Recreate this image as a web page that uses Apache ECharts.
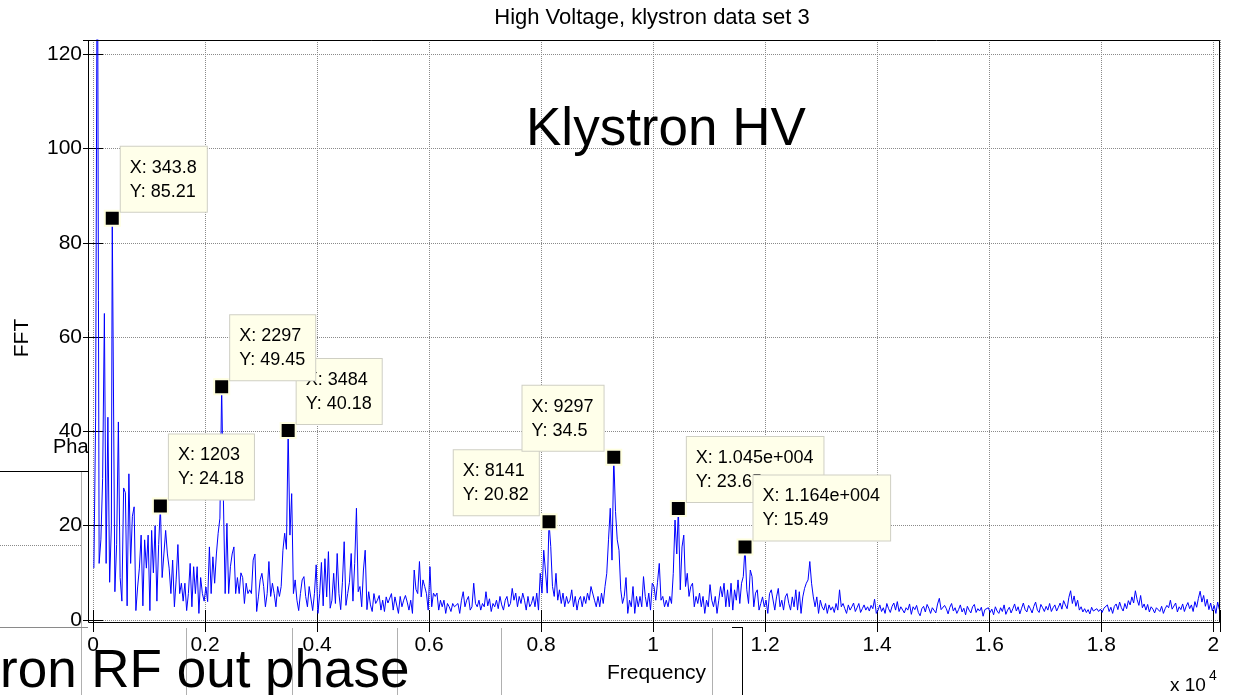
<!DOCTYPE html>
<html>
<head>
<meta charset="utf-8">
<script src="https://cdn.jsdelivr.net/npm/echarts@6/dist/echarts.min.js"></script>
<style>
  html, body { margin: 0; padding: 0; background: #fff; }
  #chart { width: 1235px; height: 695px; }
</style>
</head>
<body>
<div id="chart"></div>
<script>
// FFT bin width in Hz; the magnitude below is listed on every other (odd) bin
const BIN_HZ = 15.625;

// FFT magnitude, one row per kHz (32 odd bins per row)
const fftAmp = [
  11, 43, 160, 12, 17, 30, 65, 12, 43, 8, 20, 85.21, 6, 16, 42, 9, 4, 28, 27, 3, 31, 12, 22, 24, 2, 7, 11, 18, 3, 17, 11, 18,
  2, 19, 10, 20, 4, 16, 24.18, 9, 14, 19, 14, 11, 5.6, 12.7, 2.8, 8.5, 16, 5.6, 7.8, 4, 7.8, 2, 5.6, 12, 2.8, 11.3, 5.6, 11.3, 1.4, 9, 5.6, 4,
  7, 3.9, 15.5, 5.6, 13.4, 7.8, 14, 18.4, 21.6, 49.45, 25.4, 5.6, 20.5, 5.6, 11.3, 14, 15.5, 5.6, 9, 5.6, 10, 9, 3.5, 7.8, 5.6, 6.4, 5.6, 12.7, 14, 1.8, 4.9, 8.5,
  9.9, 7.1, 2.8, 5.6, 12.4, 5, 7.8, 5.6, 2.8, 7.1, 5, 7.1, 14.8, 18.4, 15, 40.18, 18, 26.8, 5.6, 8.5, 4.2, 2, 5.6, 8.5, 9.2, 5, 2.8, 7.1, 7.5, 2, 5.6, 11.7,
  1.4, 5.6, 12.2, 3, 13, 4.9, 14.5, 2.5, 4.2, 9.9, 3.5, 14.1, 5.6, 2.2, 8, 16.6, 3.1, 5.6, 8, 14.1, 4, 12, 23.7, 6, 7.1, 2.8, 10.6, 14.8, 2.2, 6, 3.2, 1.8,
  5.6, 3.5, 4.2, 5.2, 2.1, 4.2, 1.8, 4.9, 3.6, 3.5, 5.6, 2.1, 4.9, 4.5, 1.4, 5, 2.8, 4.2, 5.2, 3.8, 2.1, 4.2, 1.4, 10.6, 6.5, 5.6, 12.4, 4.9, 8.5, 7.1, 5.6, 2.1,
  11.3, 2.8, 5.7, 5, 5.7, 2.1, 4.2, 2.8, 4.2, 1.4, 3.5, 2.8, 1.8, 3.5, 2.8, 2.8, 3.5, 1.4, 4.2, 6, 2.8, 4.2, 5, 2.1, 2.8, 7.8, 3.5, 2.8, 4.2, 2.1, 3.5, 2.8,
  6, 3, 4.5, 1.8, 3.5, 2.8, 4.2, 2.4, 5, 3.2, 2.1, 4.2, 5, 2.8, 3.5, 6.7, 4.2, 5.7, 2.8, 5, 3.5, 5.7, 4.2, 2.1, 5, 2.8, 3.5, 5, 2.8, 5.7, 2.1, 9.9,
  5.7, 14.8, 15, 5.7, 20.82, 15.6, 7.1, 5, 9.9, 4.2, 6.4, 3.5, 5.7, 2.8, 5, 3.5, 4.2, 6.4, 2.8, 5, 2.1, 4.2, 5, 2.8, 5, 3.5, 5.7, 4.2, 7.1, 7.5, 4.2, 2.8,
  5, 2.8, 5.7, 3.5, 7.1, 9.9, 17, 23.7, 12.7, 34.5, 23, 17, 14.8, 6.4, 3.5, 5, 9, 1.4, 4.2, 2.8, 7.1, 1.4, 5, 2.8, 5, 2.8, 9.2, 5, 2.8, 5.7, 2.1, 7.8,
  7.1, 4.2, 8, 12, 4.2, 5, 2.8, 4.2, 2.8, 5, 3.5, 9.9, 21.2, 14, 23.65, 6.4, 15.5, 18, 7.1, 9.9, 5, 7.1, 7.8, 2.8, 5, 3.5, 5.7, 2.8, 5, 1.4, 4.2, 2.8,
  7.5, 4.2, 2.8, 5, 1.4, 4.2, 7.1, 4.9, 7.8, 2.8, 6.4, 2.8, 7.8, 2.1, 6.4, 4.2, 8.5, 3.5, 7.8, 9.2, 15.49, 6.4, 3.5, 10.6, 9.2, 2.8, 5.7, 6.4, 2.1, 3.5, 4.9, 2.8,
  4.2, 1.4, 5.6, 6.4, 6.7, 2.1, 4.9, 6.7, 2.8, 4.2, 2.1, 4.9, 5.6, 3.5, 2.1, 4.9, 2.8, 6.4, 2.1, 6, 1.4, 4.9, 6.7, 7.8, 8.5, 12.4, 7.8, 4.9, 2.8, 4.9, 1.4, 4.2,
  2.8, 2.1, 3.5, 1.4, 3.2, 2.1, 2.8, 1.6, 3.5, 2.1, 6.4, 2.8, 3.5, 2.4, 1.4, 3.2, 2.1, 2.8, 3.6, 1.8, 2.6, 3.5, 1.6, 2.4, 3.2, 2.1, 2.8, 1.9, 3.1, 2.4, 4.4, 1.4,
  2.1, 3.2, 1.8, 2.6, 1.4, 3.5, 2.4, 1.6, 2.9, 3.6, 2.1, 3.9, 1.8, 2.8, 3.2, 1.5, 2.6, 2.1, 3.4, 1.2, 2.8, 2.2, 3.1, 1.6, 0.9, 2.4, 2.9, 1.7, 3.3, 2.5, 1.4, 2.6,
  2.3, 1.5, 3.4, 4.6, 2.2, 1.8, 3.1, 2.4, 1.3, 2.7, 3.5, 1.9, 2.6, 1.4, 2.2, 3.2, 1.7, 2.5, 1.1, 2.9, 2.1, 1.5, 2.8, 3.3, 1.6, 2.4, 1.9, 2.7, 0.8, 2.2, 1.8, 2.6,
  1.6, 2.3, 1.1, 2.8, 1.9, 1.4, 2.6, 1.8, 3.2, 1.2, 2.1, 2.7, 1.5, 2.4, 3.4, 1.9, 2.8, 1.3, 2.5, 3.6, 2.2, 1.7, 3.1, 2.4, 1.5, 2.9, 3.8, 2.1, 1.6, 3.3, 2.6, 1.8,
  2.9, 2.1, 3.5, 1.8, 2.6, 3.2, 1.9, 2.7, 3.6, 2.3, 4.1, 3.2, 2.4, 4.8, 6.2, 3.5, 5.1, 2.9, 4.2, 2.1, 2.8, 1.7, 2.4, 1.6, 2.2, 1.3, 2.7, 1.9, 1.5, 2.4, 1.8, 2.3,
  1.6, 2.5, 2.1, 3.2, 1.8, 2.7, 1.4, 2.9, 3.4, 2.2, 3.8, 2.6, 1.9, 3.5, 2.4, 4.1, 3.2, 4.9, 3.6, 6.2, 4.3, 3.1, 5.2, 2.6, 3.4, 2.1, 3.3, 1.7, 2.8, 2.3, 1.5, 2.6,
  2.2, 1.8, 2.9, 1.4, 2.4, 3.1, 2.6, 4.2, 2.3, 1.9, 3.6, 1.7, 2.8, 2.2, 3.4, 1.8, 2.9, 3.7, 2.4, 3.2, 1.8, 3.9, 2.7, 4.6, 6.1, 3.8, 5.2, 2.9, 4.4, 2.2, 3.6, 1.9,
  3.1, 1.4, 3.8, 2.2
];

// Data tips: frequency (Hz), magnitude, and which side of the marker the box sits on
const tipFreq = [343.8, 1203, 2297, 3484, 8141, 9297, 10450, 11640];
const tipAmp  = [85.21, 24.18, 49.45, 40.18, 20.82, 34.5, 23.65, 15.49];
const tipSide = ['right', 'right', 'right', 'right', 'left', 'left', 'right', 'right'];
// stacking order of the tip boxes (later ones on top)
const tipOrder = [0, 1, 3, 2, 4, 5, 6, 7];

// Axis ticks
const xTickValues = [0, 2000, 4000, 6000, 8000, 10000, 12000, 14000, 16000, 18000, 20000];
const xTickLabels = ['0', '0.2', '0.4', '0.6', '0.8', '1', '1.2', '1.4', '1.6', '1.8', '2'];
const yTickValues = [0, 20, 40, 60, 80, 100, 120];
const yTickLabels = ['0', '20', '40', '60', '80', '100', '120'];

const FONT = '"Liberation Sans", Arial, Helvetica, sans-serif';
const TIP_FONT_SIZE = 18;
const TIP_PAD = [9, 10, 8, 9];

// line points on odd bins; each data tip replaces its nearest bin
const lineData = fftAmp.map((a, i) => [(2 * i + 1) * BIN_HZ, a]);
tipFreq.forEach((f, k) => {
  let best = 0;
  lineData.forEach((d, i) => {
    if (Math.abs(d[0] - f) < Math.abs(lineData[best][0] - f)) best = i;
  });
  lineData[best] = [f, tipAmp[k]];
});

// MATLAB-style data tip number format
function fmtTipX(f) {
  return f >= 10000 ? (f / 1e4).toFixed(3) + 'e+004' : String(f);
}
function tipLines(k) {
  return ['X: ' + fmtTipX(tipFreq[k]), 'Y: ' + tipAmp[k]];
}

// width of a tip box, so boxes left of their marker can end just before it
const measureCtx = document.createElement('canvas').getContext('2d');
measureCtx.font = TIP_FONT_SIZE + 'px ' + FONT;
function tipBoxWidth(k) {
  const w = Math.max(...tipLines(k).map(s => measureCtx.measureText(s).width));
  return w + TIP_PAD[1] + TIP_PAD[3] + 1;
}

const chart = echarts.init(document.getElementById('chart'), null, { renderer: 'canvas' });

const gridLine = { show: true, lineStyle: { color: '#8a8a8a', type: 'dotted', width: 1 } };

chart.setOption({
  animation: false,
  backgroundColor: '#fff',
  textStyle: { fontFamily: FONT },
  grid: { left: 93, right: 15, top: 40, bottom: 75, containLabel: false },
  xAxis: [
    {
      type: 'value', min: 0, max: 20120, interval: 2000,
      axisLine: { show: false },
      axisTick: { show: true, inside: true, length: 10, lineStyle: { color: '#000' } },
      axisLabel: {
        margin: 15, fontSize: 21, color: '#000', fontFamily: FONT,
        formatter: v => { const i = xTickValues.indexOf(v); return i < 0 ? '' : xTickLabels[i]; }
      },
      splitLine: gridLine,
      name: 'Frequency', nameLocation: 'middle', nameGap: 43,
      nameTextStyle: { fontSize: 21, color: '#000', fontFamily: FONT }
    },
    {
      type: 'value', position: 'top', min: 0, max: 20120, interval: 2000,
      axisLine: { show: false },
      axisTick: { show: true, inside: true, length: 12, lineStyle: { color: '#000' } },
      axisLabel: { show: false },
      splitLine: { show: false }
    }
  ],
  yAxis: [
    {
      type: 'value', min: 0, max: 123, interval: 20,
      axisLine: { show: false },
      axisTick: { show: true, inside: true, length: 10, lineStyle: { color: '#000' } },
      axisLabel: {
        margin: 11, fontSize: 21, color: '#000', fontFamily: FONT,
        formatter: v => { const i = yTickValues.indexOf(v); return i < 0 ? '' : yTickLabels[i]; }
      },
      splitLine: gridLine
    },
    {
      type: 'value', position: 'right', min: 0, max: 123, interval: 20,
      axisLine: { show: false },
      axisTick: { show: true, inside: true, length: 10, lineStyle: { color: '#000' } },
      axisLabel: { show: false },
      splitLine: { show: false }
    }
  ],
  series: [
    {
      type: 'line',
      xAxisIndex: 0, yAxisIndex: 0,
      data: lineData,
      showSymbol: false,
      clip: true,
      sampling: null,
      lineStyle: { color: '#0000ff', width: 1 },
      z: 3,
      markPoint: {
        symbol: 'rect',
        symbolSize: 15,
        itemStyle: { color: '#000', borderColor: '#ffffe0', borderWidth: 2 },
        label: {
          show: true,
          fontSize: TIP_FONT_SIZE,
          lineHeight: 24,
          fontFamily: FONT,
          color: '#000',
          align: 'left',
          backgroundColor: '#ffffea',
          borderColor: '#cfcfc4',
          borderWidth: 1,
          padding: TIP_PAD
        },
        data: tipOrder.map(k => ({
          coord: [tipFreq[k], tipAmp[k]],
          label: {
            position: tipSide[k] === 'left' ? [-tipBoxWidth(k) - 0.7, -63] : [17, -63],
            formatter: tipLines(k).join('\n')
          }
        }))
      }
    }
  ],
  graphic: [
    // figure title
    { type: 'text', x: 652, y: 18, z: 20,
      style: { text: 'High Voltage, klystron data set 3', font: '22px ' + FONT, fill: '#000', align: 'center', verticalAlign: 'middle' } },
    // y axis title
    { type: 'text', x: 22, y: 338, rotation: Math.PI / 2, z: 20,
      style: { text: 'FFT', font: '21px ' + FONT, fill: '#000', align: 'center', verticalAlign: 'middle' } },
    // axes box
    { type: 'rect', z: 20, silent: true,
      shape: { x: 88.5, y: 40.5, width: 1131, height: 582 },
      style: { fill: 'none', stroke: '#000', lineWidth: 1 } },
    // in-plot annotation
    { type: 'text', x: 526, y: 130, z: 20,
      style: { text: 'Klystron HV', font: '53px ' + FONT, fill: '#000', align: 'left', verticalAlign: 'middle' } },
    // exponent of the frequency axis
    { type: 'text', x: 1170, y: 686, z: 20,
      style: { text: 'x 10', font: '19px ' + FONT, fill: '#000', align: 'left', verticalAlign: 'middle' } },
    { type: 'text', x: 1209, y: 676, z: 20,
      style: { text: '4', font: '14px ' + FONT, fill: '#000', align: 'left', verticalAlign: 'middle' } },
    // pieces of the phase figure around the plot
    { type: 'line', z: 1, shape: { x1: 0, y1: 471.5, x2: 88, y2: 471.5 }, style: { stroke: '#000', lineWidth: 1 } },
    { type: 'line', z: 1, shape: { x1: 0, y1: 545.5, x2: 82, y2: 545.5 }, style: { stroke: '#8a8a8a', lineWidth: 1, lineDash: [1, 1] } },
    { type: 'line', z: 1, shape: { x1: 81.5, y1: 472, x2: 81.5, y2: 695 }, style: { stroke: '#b0b0b0', lineWidth: 1 } },
    { type: 'line', z: 1, shape: { x1: 0, y1: 627.5, x2: 88, y2: 627.5 }, style: { stroke: '#8a8a8a', lineWidth: 1 } },
    { type: 'line', z: 1, shape: { x1: 186.5, y1: 628, x2: 186.5, y2: 695 }, style: { stroke: '#b0b0b0', lineWidth: 1 } },
    { type: 'line', z: 1, shape: { x1: 292.5, y1: 628, x2: 292.5, y2: 695 }, style: { stroke: '#b0b0b0', lineWidth: 1 } },
    { type: 'line', z: 1, shape: { x1: 397.5, y1: 628, x2: 397.5, y2: 695 }, style: { stroke: '#b0b0b0', lineWidth: 1 } },
    { type: 'line', z: 1, shape: { x1: 501.5, y1: 628, x2: 501.5, y2: 695 }, style: { stroke: '#b0b0b0', lineWidth: 1 } },
    { type: 'line', z: 1, shape: { x1: 712.5, y1: 628, x2: 712.5, y2: 695 }, style: { stroke: '#b0b0b0', lineWidth: 1 } },
    { type: 'line', z: 1, shape: { x1: 742.5, y1: 627, x2: 742.5, y2: 695 }, style: { stroke: '#000', lineWidth: 1 } },
    { type: 'line', z: 1, shape: { x1: 732, y1: 627.5, x2: 743, y2: 627.5 }, style: { stroke: '#000', lineWidth: 1 } },
    { type: 'text', x: 53, y: 447, z: 1,
      style: { text: 'Pha', font: '20px ' + FONT, fill: '#000', align: 'left', verticalAlign: 'middle' } },
    { type: 'text', x: 0, y: 672, z: 1,
      style: { text: 'ron RF out phase', font: '53px ' + FONT, fill: '#000', align: 'left', verticalAlign: 'middle' } }
  ]
});
</script>
</body>
</html>
